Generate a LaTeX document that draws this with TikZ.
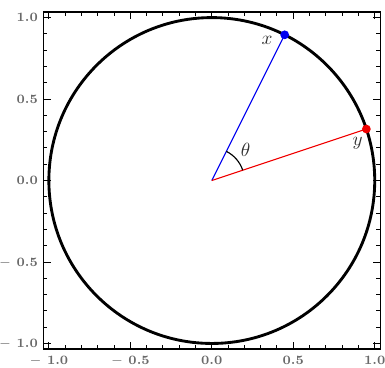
\documentclass[tikz,border=0pt]{standalone}
\usepackage{tikz}
\usetikzlibrary{angles}
\definecolor{ticklbl}{RGB}{105,105,105}
\definecolor{ptblue}{RGB}{0,0,240}
\definecolor{ptred}{RGB}{240,0,0}

\begin{document}
\begin{tikzpicture}[
  x=3cm, y=3cm,
  frame/.style={draw=black, line width=0.7pt},
  tickmark/.style={line width=0.5pt},
  ticklabel/.style={font=\fontsize{6.7}{8}\selectfont\bfseries, text=ticklbl, inner sep=0pt},
  unitcircle/.style={draw=black, line width=1.5pt},
  dot/.style={circle, inner sep=0pt, minimum size=4.6pt},
  ptlabel/.style={font=\normalsize, text=black!80, inner sep=0pt}
]
  \useasboundingbox (-1.300,-1.150) rectangle (1.063,1.108);

  % frame and ticks
  \draw[frame] (-1.035,-1.035) rectangle (1.035,1.035);
  \foreach \i in {-10,...,10} {
    \draw[tickmark] (\i/10,-1.035) -- ++(0,0.025);
    \draw[tickmark] (\i/10,1.035) -- ++(0,-0.025);
    \draw[tickmark] (-1.035,\i/10) -- ++(0.025,0);
    \draw[tickmark] (1.035,\i/10) -- ++(-0.025,0);
  }
  \foreach \v/\t in {-1/{$-$ 1.0}, -0.5/{$-$ 0.5}, 0/0.0, 0.5/0.5, 1/1.0} {
    \draw[tickmark] (\v,-1.035) -- ++(0,0.045);
    \draw[tickmark] (\v,1.035) -- ++(0,-0.045);
    \draw[tickmark] (-1.035,\v) -- ++(0.045,0);
    \draw[tickmark] (1.035,\v) -- ++(-0.045,0);
    \node[ticklabel, anchor=base] at (\v,-1.127) {\t};
    \node[ticklabel, anchor=mid east] at (-1.065,\v) {\t};
  }

  % circle and points
  \coordinate (o) at (0,0);
  \draw[unitcircle] (o) circle (1);
  \coordinate (xp) at (63.43:1);
  \coordinate (yp) at (18.43:1);
  \draw[ptblue, line width=0.6pt] (o) -- (xp);
  \draw[ptred, line width=0.6pt] (o) -- (yp);
  \pic[draw, line width=0.6pt, angle radius=0.6cm] {angle=yp--o--xp};
  \node[dot, fill=ptblue] (x) at (xp) {};
  \node[dot, fill=ptred] (y) at (yp) {};

  \node[ptlabel] (xlbl) at (0.34,0.862) {$x$};
  \node[ptlabel] (ylbl) at (0.895,0.226) {$y$};
  \node[ptlabel] (theta) at (0.208,0.188) {$\theta$};
\end{tikzpicture}
\end{document}
